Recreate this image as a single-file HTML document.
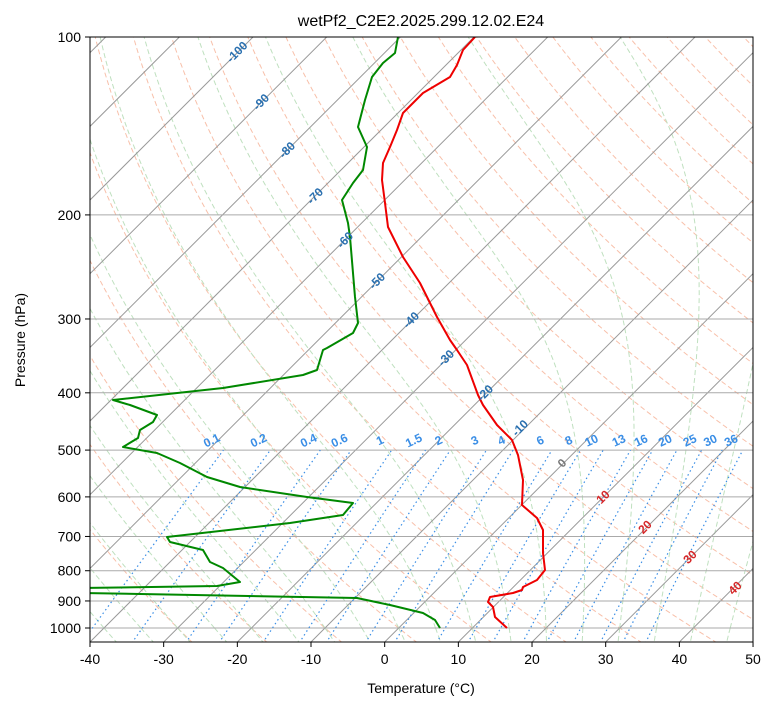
<!DOCTYPE html>
<html><head><meta charset="utf-8"><style>
body{margin:0;background:#fff;}
svg{font-family:"Liberation Sans","DejaVu Sans",sans-serif;}
</style></head><body>
<svg id="s" width="775" height="708" xmlns="http://www.w3.org/2000/svg">
<defs><clipPath id="c"><rect x="90" y="37" width="663" height="605"/></clipPath></defs>
<rect width="775" height="708" fill="#fff"/>
<g id="bg" clip-path="url(#c)"></g>
<g clip-path="url(#c)" stroke-linejoin="round">
<polyline fill="none" stroke="#e00" stroke-width="2" points="475,37 463,50 457,65 450,77 423,93 403,113 397,130 390,147 383,163 382,180 385,203 388,227 403,257 420,283 437,317 450,340 457,350 467,365 478,395 483,405 497,425 512,440 518,455 523,480 522,505 537,518 543,530 543,553 545,570 537,580 523,587 522,590 513,593 490,597 488,602 493,607 495,617 507,628"/>
<polyline fill="none" stroke="#080" stroke-width="2" points="398,37 395,53 383,63 372,77 365,100 358,127 367,147 363,170 353,183 342,200 348,223 350,237 355,297 358,323 353,333 327,348 323,350 317,370 303,375 223,388 113,400 130,405 157,415 153,422 140,430 138,438 123,447 157,453 180,463 207,477 240,487 307,497 353,503 343,515 290,523 167,537 170,542 203,550 210,562 223,568 240,582 217,586 85,588 85,593 357,598 390,605 423,613 435,620 440,628"/>
</g>
<g id="lab" font-weight="bold" font-size="12"></g>
<rect x="90" y="37" width="663" height="605" fill="none" stroke="#000" stroke-width="1"/>
<g id="ax" font-size="14" fill="#000"></g>
<text x="421" y="26" font-size="16" text-anchor="middle">wetPf2_C2E2.2025.299.12.02.E24</text>
<text x="421" y="693" font-size="14" text-anchor="middle">Temperature (°C)</text>
<text x="25" y="340" font-size="14" text-anchor="middle" transform="rotate(-90 25 340)">Pressure (hPa)</text>
</svg>
<script>
var NS="http://www.w3.org/2000/svg";
function Y(p){return 37+591*Math.log10(p/100);}
function X(T,p){return 90+(T+40)*7.367+(642-Y(p));}
function el(par,tag,a,txt){var e=document.createElementNS(NS,tag);for(var k in a)e.setAttribute(k,a[k]);if(txt!==undefined)e.textContent=txt;document.getElementById(par).appendChild(e);return e;}
function line(pts,st,w,da){el('bg','polyline',{points:pts.map(function(q){return q[0].toFixed(1)+','+q[1].toFixed(1)}).join(' '),fill:'none',stroke:st,'stroke-width':w,'stroke-dasharray':da||''});}
var ps=[];for(var p=1060;p>=95;p-=5)ps.push(p);
for(var th=-30;th<=250;th+=10){var pts=[];ps.forEach(function(p){var T=(th+273.15)*Math.pow(p/1000,0.286)-273.15;pts.push([X(T,p),Y(p)]);});line(pts,'#f8c0aa',1,'5,3');}
function rs(T,p){var e=6.112*Math.exp(17.67*T/(T+243.5));return 0.622*e/(p-e);}
for(var T0=-40;T0<=50;T0+=5){
 [1,-1].forEach(function(dir){var T=T0,p=1000,pts=[[X(T,p),Y(p)]];
 while(p>95&&p<1065){var Tk=T+273.15,r=rs(T,p);var dTdp=(1/p)*(287*Tk+2.5e6*r)/(1004+2.5e6*2.5e6*r*0.622/(287*Tk*Tk));var dp=-5*dir;T+=dTdp*dp;p+=dp;pts.push([X(T,p),Y(p)]);}
 line(pts,'#bfe0bf',1,'5,3');});
}
for(var T=-150;T<=60;T+=10){line([[X(T,1100),Y(1100)],[X(T,90),Y(90)]],'#999',1);}
[100,200,300,400,500,600,700,800,900,1000].forEach(function(p){line([[90,Y(p)],[753,Y(p)]],'#aaa',1);});
var ws=[0.1,0.2,0.4,0.6,1,1.5,2,3,4,6,8,10,13,16,20,25,30,36];
ws.forEach(function(w){var pts=[],top;[1060,1000,900,800,700,600,500].forEach(function(p){var e=w*p/(622+w);var l=Math.log(e/6.112);var T=243.5*l/(17.67-l);pts.push([X(T,p),Y(p)]);top=[X(T,p),Y(p)];});
line(pts,'#3a8ee6',1.2,'1.5,3');
var t=el('lab','text',{x:top[0]-10,y:top[1]-6,fill:'#3a8ee6','text-anchor':'middle',transform:'rotate(-25 '+(top[0]-10)+' '+(top[1]-6)+')'},String(w));});
[[-100,237,52],[-90,261,102],[-80,287,150],[-70,315,196],[-60,345,240],[-50,377,281],[-40,411,320],[-30,446,358],[-20,485,393],[-10,520,428],[0,562,463],[10,603,497],[20,645,527],[30,690,557],[40,735,588]].forEach(function(a){var c=a[0]<0?'#2a70b0':(a[0]==0?'#777':'#d62728');el('lab','text',{x:a[1],y:a[2]+4,fill:c,'text-anchor':'middle',transform:'rotate(-45 '+a[1]+' '+a[2]+')'},String(a[0]));});
for(var T=-40;T<=50;T+=10){var x=90+(T+40)*7.367;el('ax','line',{x1:x,y1:642,x2:x,y2:647,stroke:'#000'});el('ax','text',{x:x,y:664,'text-anchor':'middle'},String(T));}
[100,200,300,400,500,600,700,800,900,1000].forEach(function(p){var y=Y(p);el('ax','line',{x1:85,y1:y,x2:90,y2:y,stroke:'#000'});el('ax','text',{x:81,y:y+5,'text-anchor':'end'},String(p));});
</script>
</body></html>
